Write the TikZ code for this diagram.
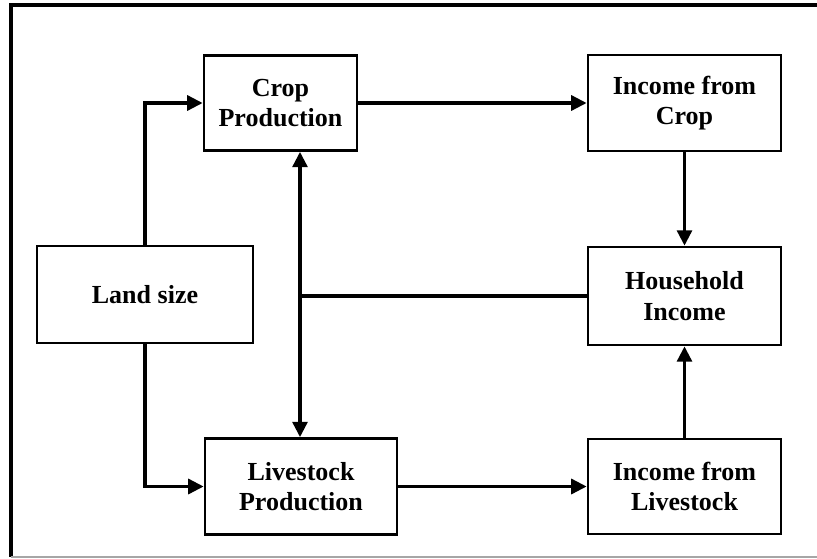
\documentclass[tikz,border=0pt]{standalone}
\usepackage{fontspec}
\setmainfont{Liberation Serif}
\usetikzlibrary{arrows.meta, positioning}

\begin{document}
\begin{tikzpicture}[x=0.025cm, y=-0.025cm,
    font=\fontsize{18.5}{21.5}\selectfont\bfseries,
    >={Triangle[length=11pt, width=10.5pt]},
    box/.style={draw, rectangle, line width=1.8pt, align=center, inner sep=0pt},
    link/.style={line width=2.6pt}]
    \useasboundingbox (0,0) rectangle (817,559);

    % frame
    \draw[line width=2.4pt] (840,5) -- (11,5) -- (11,557);
    \draw[line width=1.2pt, gray!70] (11,557) -- (840,557);

    % boxes
    \node[box, minimum width=5.4cm, minimum height=2.425cm] (land) at (145,294.5) {Land size};
    \node[box, minimum width=3.825cm, minimum height=2.375cm] (crop) at (280.5,103) {Crop\\Production};
    \node[box, minimum width=4.8cm, minimum height=2.4cm] (live) at (301,486.5) {Livestock\\Production};
    \node[box, minimum width=4.825cm, minimum height=2.4cm] (inccrop) at (684.5,103) {Income from\\Crop};
    \node[box, minimum width=4.825cm, minimum height=2.45cm] (house) at (684.5,296) {Household\\Income};
    \node[box, minimum width=4.825cm, minimum height=2.375cm] (inclive) at (684.5,486.5) {Income from\\Livestock};

    % land size to production
    \draw[link, ->] (land.north) |- (crop.west);
    \draw[link, ->] (land.south) |- (live.west);

    % production to income
    \draw[link, ->] (crop.east) -- (inccrop.west);
    \draw[link, ->] (live.east) -- (inclive.west);
    \draw[link, ->] (inccrop.south) -- (house.north);
    \draw[link, ->] (inclive.north) -- (house.south);

    % feedback from household income
    \coordinate (mid) at (300,296);
    \draw[link, <->] (crop.south -| mid) -- (live.north -| mid);
    \draw[link] (house.west) -- (mid);
\end{tikzpicture}
\end{document}
